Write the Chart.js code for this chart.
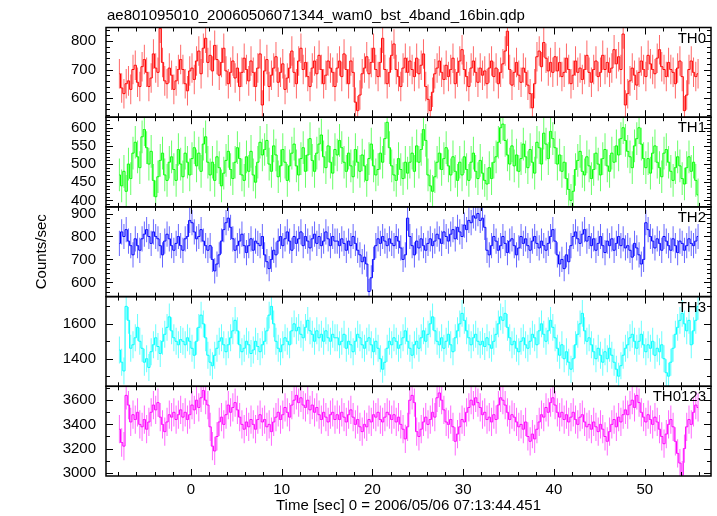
<!DOCTYPE html>
<html>
<head>
<meta charset="utf-8">
<title>ae801095010 WAM burst light curve</title>
<script src="https://cdn.jsdelivr.net/npm/chart.js@4.4.0/dist/chart.umd.min.js"></script>
<style>
  html, body { margin: 0; padding: 0; background: #fff; }
  #wrap { width: 717px; height: 516px; }
</style>
</head>
<body>
<div id="wrap"><canvas id="lc" width="717" height="516"></canvas></div>
<script>
// 0.25 s bins (16 x 1/64 s), first bin centred at -7.875 s
const binStart = -7.875;
const binWidth = 0.25;

const bands = ['TH0', 'TH1', 'TH2', 'TH3', 'TH0123'];

const th0 = [
  685,635,615,650,660,630,700,715, 655,640,710,735,690,640,670,755, 705,690,845,725,660,650,705,680, 630,660,700,735,700,650,625,695,
  705,665,730,765,685,775,810,725, 750,695,785,735,680,725,775,695, 650,690,730,670,705,640,690,740, 700,660,730,690,640,705,755,575,
  695,735,640,680,705,745,655,690, 720,630,670,705,765,690,650,730, 775,700,725,675,640,705,730,685, 750,700,650,680,730,705,690,640,
  705,730,675,755,700,650,730,690, 585,555,610,685,705,745,685,725, 775,700,675,725,810,700,650,690, 750,790,700,675,640,705,740,690,
  730,700,675,740,685,715,755,640, 595,555,620,685,705,730,690,665, 715,675,700,740,650,690,730,770, 700,675,640,705,730,690,655,705,
  680,695,650,705,730,675,705,650, 690,720,765,835,700,645,690,725, 680,655,705,690,645,615,565,650, 745,765,710,795,740,695,725,690,
  745,695,725,675,690,740,700,650, 680,730,690,705,665,700,750,690, 655,700,730,675,690,750,700,725, 690,705,770,720,745,700,825,575,
  615,660,705,680,645,690,730,700, 675,750,720,700,685,740,770,710, 700,675,725,700,690,650,705,730, 675,555,610,700,730,690,675,685
];

const th1 = [
  470,440,480,425,500,460,530,560, 520,490,575,595,545,500,535,455, 410,465,510,530,470,455,505,520, 485,455,540,500,465,530,505,470,
  515,545,495,530,480,555,575,505, 470,505,455,520,490,440,475,510, 535,485,460,505,545,515,470,455, 520,480,535,470,450,505,560,525,
  540,565,500,480,550,525,465,495, 540,505,455,495,530,555,495,470, 515,545,480,525,570,510,480,530, 555,580,520,490,550,505,475,540,
  525,565,545,505,480,530,495,465, 540,505,480,525,495,455,515,555, 495,470,485,530,505,570,615,545, 495,470,455,515,485,460,505,475,
  505,530,480,550,505,540,595,565, 470,440,425,465,505,530,485,515, 545,495,470,520,480,455,505,470, 520,485,455,505,530,480,460,510,
  475,455,445,490,460,505,520,560, 600,610,565,525,500,550,495,525, 480,515,555,520,490,540,505,475, 560,545,500,585,555,515,590,570,
  545,500,525,480,505,460,430,400, 425,485,510,535,480,470,520,495, 460,485,530,500,470,515,540,495, 480,530,505,550,525,570,600,565,
  535,520,490,550,570,600,555,515, 490,515,475,530,550,505,490,465, 530,540,505,480,455,490,520,495, 460,445,490,520,480,505,455,415
];

const th2 = [
  770,820,800,830,780,760,720,790, 760,740,790,810,830,800,770,820, 800,790,760,720,780,810,790,760, 740,770,800,760,740,790,800,870,
  860,820,790,800,830,780,760,740, 760,700,650,680,720,780,830,860, 880,840,790,740,760,780,810,760, 730,760,790,740,780,770,760,800,
  720,690,660,700,740,720,780,800, 760,790,820,780,740,800,770,790, 820,760,800,780,750,790,810,770, 800,760,780,820,790,760,800,780,
  780,760,790,770,740,780,760,800, 770,740,720,690,710,680,560,620, 700,760,790,770,800,780,760,790, 770,760,800,780,750,700,720,880,
  800,760,720,780,750,790,760,740, 770,790,760,780,810,790,770,820, 800,780,810,830,790,840,820,800, 850,830,870,860,890,880,900,870,
  880,840,740,720,760,800,780,740, 760,800,770,730,780,790,760,720, 750,800,770,790,760,740,780,800, 770,750,780,760,740,770,800,830,
  780,720,680,700,660,720,690,760, 800,820,790,770,810,830,780,800, 760,790,740,770,800,760,730,780, 760,790,740,770,800,760,790,750,
  760,740,710,770,750,720,680,700, 860,830,800,780,750,790,770,740, 800,780,760,740,790,760,730,780, 770,740,760,790,770,760,780,800
];

const th3 = [
  1450,1380,1330,1700,1620,1460,1480,1520, 1580,1500,1460,1380,1400,1350,1440,1480, 1520,1470,1430,1500,1540,1580,1640,1560, 1520,1500,1480,1510,1500,1480,1520,1500,
  1460,1420,1500,1580,1650,1600,1520,1420, 1380,1360,1420,1460,1500,1520,1480,1440, 1480,1520,1560,1620,1560,1480,1440,1460, 1500,1480,1430,1450,1500,1470,1440,1480,
  1500,1560,1650,1700,1600,1500,1460,1440, 1480,1520,1500,1480,1560,1600,1560,1580, 1540,1520,1580,1620,1560,1540,1500,1560, 1520,1540,1500,1560,1520,1500,1540,1520,
  1520,1480,1500,1540,1460,1500,1480,1440, 1500,1540,1520,1480,1460,1500,1520,1480, 1440,1500,1460,1400,1340,1380,1460,1500, 1480,1520,1500,1460,1480,1520,1560,1500,
  1460,1420,1480,1500,1460,1520,1560,1500, 1540,1600,1640,1560,1500,1480,1520,1460, 1500,1540,1480,1440,1520,1560,1600,1660, 1620,1560,1520,1480,1520,1540,1500,1480,
  1500,1470,1520,1480,1460,1500,1540,1600, 1640,1620,1660,1580,1520,1480,1500,1460, 1440,1500,1520,1480,1460,1500,1540,1520, 1480,1560,1600,1540,1500,1560,1620,1580,
  1520,1460,1420,1480,1400,1440,1380,1340, 1400,1480,1540,1600,1660,1560,1500,1520, 1480,1440,1400,1460,1420,1380,1440,1400, 1460,1420,1380,1340,1300,1360,1420,1460,
  1480,1520,1540,1500,1460,1500,1540,1480, 1440,1480,1460,1500,1420,1460,1440,1480, 1400,1320,1300,1380,1460,1540,1580,1620, 1660,1600,1560,1620,1480,1560,1620,1700
];

const th0123 = [
  3360,3250,3220,3640,3560,3420,3480,3440, 3500,3400,3380,3440,3360,3420,3500,3560, 3520,3580,3460,3400,3340,3420,3480,3460, 3500,3440,3480,3520,3460,3500,3440,3480,
  3560,3520,3600,3540,3620,3680,3600,3560, 3380,3220,3180,3300,3420,3460,3400,3480, 3560,3500,3540,3580,3520,3460,3400,3360, 3420,3380,3440,3400,3360,3440,3480,3420,
  3440,3380,3400,3340,3420,3460,3500,3440, 3480,3540,3500,3460,3560,3600,3640,3580, 3620,3560,3540,3600,3520,3560,3500,3540, 3480,3440,3500,3460,3420,3480,3500,3440,
  3480,3440,3500,3460,3420,3480,3520,3460, 3400,3440,3380,3340,3400,3380,3440,3420, 3480,3460,3500,3440,3420,3460,3500,3480, 3440,3480,3420,3460,3400,3360,3280,3380,
  3600,3640,3580,3340,3300,3360,3420,3460, 3400,3440,3500,3460,3620,3660,3600,3520, 3420,3400,3440,3380,3260,3320,3380,3440, 3420,3500,3540,3600,3560,3620,3580,3540,
  3480,3500,3440,3460,3420,3480,3440,3560, 3620,3600,3560,3500,3440,3480,3460,3420, 3380,3400,3360,3420,3300,3260,3320,3280, 3360,3420,3480,3460,3540,3500,3580,3620,
  3560,3500,3460,3500,3440,3480,3420,3460, 3500,3440,3400,3460,3480,3420,3380,3400, 3360,3420,3380,3340,3400,3360,3300,3260, 3340,3400,3440,3380,3460,3420,3480,3520,
  3480,3560,3600,3540,3640,3580,3500,3460, 3420,3480,3440,3400,3460,3420,3360,3300, 3240,3320,3400,3440,3380,3260,3160,3080, 2980,3200,3380,3440,3400,3500,3560,3540
];

// 1-sigma half width of the error bars per band (counts/sec)
const errHalf = [52, 45, 55, 77, 117];

// tick labels
const xTicks = [0, 10, 20, 30, 40, 50];
const yTicks = [
  [600, 700, 800],
  [400, 450, 500, 550, 600],
  [600, 700, 800, 900],
  [1400, 1600],
  [3000, 3200, 3400, 3600]
];

const series = [th0, th1, th2, th3, th0123];
const colors = ['#ff0000', '#00ff00', '#0000ff', '#00ffff', '#ff00ff'];
const errColors = ['rgba(255,0,0,0.6)', 'rgba(0,255,0,0.6)', 'rgba(0,0,255,0.6)', 'rgba(0,255,255,0.6)', 'rgba(255,0,255,0.6)'];
const yMin = [532, 382, 538, 1242, 2973];
const yMax = [848, 629, 929, 1756, 3715];
const yMinorStep = [20, 10, 20, 100, 100];
const yIds = ['y0', 'y1', 'y2', 'y3', 'y4'];

const fileName = 'ae801095010_20060506071344_wam0_bst_4band_16bin.qdp';
const xTitle = 'Time [sec] 0 = 2006/05/06 07:13:44.451';
const FONT = { family: '"Liberation Sans", Arial, Helvetica, sans-serif', size: 15 };
const fontStr = '15px "Liberation Sans", Arial, Helvetica, sans-serif';

const datasets = [];
series.forEach((vals, k) => {
  datasets.push({
    type: 'line',
    data: vals.map((v, i) => ({ x: binStart + i * binWidth, y: v })),
    yAxisID: yIds[k],
    borderColor: colors[k],
    borderWidth: 1,
    stepped: 'middle',
    pointRadius: 0,
    fill: false
  });
  datasets.push({
    type: 'bar',
    data: vals.map((v, i) => ({ x: binStart + i * binWidth, y: [v - errHalf[k], v + errHalf[k]] })),
    yAxisID: yIds[k],
    backgroundColor: errColors[k],
    borderWidth: 0,
    barThickness: 1,
    inflateAmount: 0,
    grouped: false
  });
});

// clip each band to its own panel, then draw frames, inward ticks and labels
const panels = {
  id: 'panels',
  beforeDatasetDraw(chart, args) {
    const s = chart.scales[args.meta.yAxisID];
    const a = chart.chartArea;
    const ctx = chart.ctx;
    ctx.save();
    ctx.beginPath();
    ctx.rect(a.left, s.top, a.right - a.left, s.bottom - s.top);
    ctx.clip();
  },
  afterDatasetDraw(chart) {
    chart.ctx.restore();
  },
  afterDraw(chart) {
    const ctx = chart.ctx, a = chart.chartArea, xs = chart.scales.x;
    ctx.save();
    ctx.strokeStyle = '#000';
    ctx.fillStyle = '#000';
    ctx.font = fontStr;
    yIds.forEach((id, k) => {
      const s = chart.scales[id];
      ctx.lineWidth = 1;
      ctx.beginPath();
      for (let t = -8; t <= 56; t += 2) {
        const px = Math.round(xs.getPixelForValue(t)) + 0.5;
        const len = t % 10 === 0 ? 7 : 4;
        ctx.moveTo(px, s.top); ctx.lineTo(px, s.top + len);
        ctx.moveTo(px, s.bottom); ctx.lineTo(px, s.bottom - len);
      }
      const step = yMinorStep[k];
      for (let v = Math.ceil(yMin[k] / step) * step; v <= yMax[k]; v += step) {
        const py = Math.round(s.getPixelForValue(v)) + 0.5;
        const len = yTicks[k].includes(v) ? 7 : 4;
        ctx.moveTo(a.left, py); ctx.lineTo(a.left + len, py);
        ctx.moveTo(a.right, py); ctx.lineTo(a.right - len, py);
      }
      ctx.stroke();
      ctx.lineWidth = 1.5;
      ctx.strokeRect(a.left, s.top, a.right - a.left, s.bottom - s.top);
      ctx.textAlign = 'right';
      ctx.textBaseline = 'middle';
      ctx.fillText(bands[k], a.right - 5, s.top + 11);
    });
    ctx.textAlign = 'left';
    ctx.textBaseline = 'alphabetic';
    ctx.fillText(fileName, a.left + 1, 20);
    ctx.restore();
  }
};

const scales = {
  x: {
    type: 'linear',
    min: -9.35,
    max: 57.3,
    offset: false,
    grid: { display: false, drawTicks: false },
    border: { display: false },
    afterBuildTicks: s => { s.ticks = xTicks.map(v => ({ value: v })); },
    ticks: { color: '#000', font: FONT, padding: 5, maxRotation: 0, autoSkip: false, callback: v => String(v) },
    title: { display: true, text: xTitle, color: '#000', font: FONT, padding: { top: 0, bottom: 1 } },
    afterFit: s => { s.height = 40; }
  }
};
// stacked axes are laid out bottom-up in creation order, so add the last band first
for (let k = yIds.length - 1; k >= 0; k--) {
  scales[yIds[k]] = {
    type: 'linear',
    position: 'left',
    stack: 'bands',
    stackWeight: 1,
    offset: false,
    min: yMin[k],
    max: yMax[k],
    grid: { display: false, drawTicks: false },
    border: { display: false },
    afterBuildTicks: s => { s.ticks = yTicks[k].map(v => ({ value: v })); },
    ticks: { color: '#000', font: FONT, padding: 10, autoSkip: false, callback: v => String(v) },
    title: { display: k === 2, text: 'Counts/sec', color: '#000', font: FONT, padding: { top: 4, bottom: 4 } },
    afterFit: s => { s.width = 77; }
  };
}

new Chart(document.getElementById('lc'), {
  type: 'line',
  data: { datasets },
  options: {
    responsive: false,
    animation: false,
    layout: { padding: { left: 29, right: 6, top: 27.5, bottom: 0 } },
    plugins: { legend: { display: false }, tooltip: { enabled: false } },
    scales
  },
  plugins: [panels]
});
</script>
</body>
</html>
